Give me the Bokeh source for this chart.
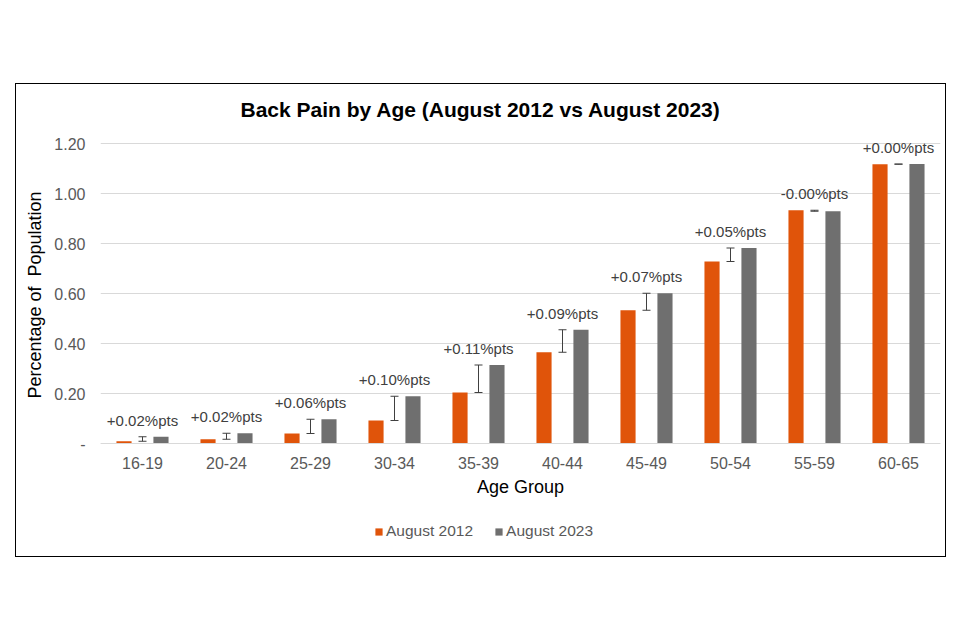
from bokeh.plotting import figure
from bokeh.models import (ColumnDataSource, FactorRange, Range1d, FixedTicker,
                          NumeralTickFormatter, Legend, LegendItem)
from bokeh.transform import dodge
from bokeh.embed import file_html
from bokeh.resources import INLINE
from bokeh.core.properties import value

# ---- data ----
age_groups = ["16-19", "20-24", "25-29", "30-34", "35-39",
              "40-44", "45-49", "50-54", "55-59", "60-65"]
aug_2012 = [0.009, 0.017, 0.040, 0.092, 0.204, 0.365, 0.533, 0.728, 0.933, 1.117]
aug_2023 = [0.027, 0.041, 0.097, 0.189, 0.314, 0.455, 0.601, 0.782, 0.929, 1.118]
change_labels = ["+0.02%pts", "+0.02%pts", "+0.06%pts", "+0.10%pts", "+0.11%pts",
                 "+0.09%pts", "+0.07%pts", "+0.05%pts", "-0.00%pts", "+0.00%pts"]
y_ticks = [0, 0.2, 0.4, 0.6, 0.8, 1.0, 1.2]
series_names = ["August 2012", "August 2023"]

FONT = "Liberation Sans"
ORANGE = "#E0540A"
GREY = "#6F6F6F"

src = ColumnDataSource(dict(
    age=age_groups,
    a2012=aug_2012,
    a2023=aug_2023,
    lo=[min(a, b) for a, b in zip(aug_2012, aug_2023)],
    hi=[max(a, b) for a, b in zip(aug_2012, aug_2023)],
    lab=change_labels,
))

p = figure(
    x_range=FactorRange(*age_groups, range_padding=0),
    # frame spans 39px above 1.20 and down to the legend row (250 px per unit)
    y_range=Range1d(-0.432, 1.28),
    width=929, height=472,
    output_backend="svg", toolbar_location=None,
    min_border_left=84, min_border_right=5, min_border_top=39, min_border_bottom=5,
    margin=(84, 0, 0, 16),
    styles={"outline": "1px solid #000000", "outline-offset": "0px"},
)
p.background_fill_color = "white"
p.border_fill_color = "white"
p.outline_line_color = None

# title
p.title.text = "Back Pain by Age (August 2012 vs August 2023)"
p.title.align = "left"
p.title.offset = 140
p.title.text_font = FONT
p.title.text_font_size = "21px"
p.title.text_font_style = "bold"
p.title.text_color = "#000000"
p.title.standoff = 5

# bars
r1 = p.vbar(x=dodge("age", -0.22, range=p.x_range), top="a2012", width=0.18,
            source=src, fill_color=ORANGE, line_color=None)
r2 = p.vbar(x=dodge("age", 0.22, range=p.x_range), top="a2023", width=0.18,
            source=src, fill_color=GREY, line_color=None)

# change bars (error-bar style)
p.segment(x0="age", y0="lo", x1="age", y1="hi", source=src,
          line_color="#404040", line_width=1)
p.scatter(x="age", y="lo", marker="dash", size=8, source=src,
          line_color="#404040", line_width=1)
p.scatter(x="age", y="hi", marker="dash", size=8, source=src,
          line_color="#404040", line_width=1)

# change labels
p.text(x="age", y="hi", text="lab", source=src, y_offset=-8,
       text_align="center", text_baseline="bottom",
       text_font=value(FONT), text_font_size="15px", text_color="#404040")

# axes
p.yaxis.ticker = FixedTicker(ticks=y_ticks)
p.yaxis.bounds = (0, 1.2)
p.yaxis.formatter = NumeralTickFormatter(format="0.00")
p.yaxis.major_label_overrides = {0: "-"}
p.yaxis.axis_line_color = None
p.yaxis.major_tick_line_color = None
p.yaxis.minor_tick_line_color = None
p.yaxis.major_label_text_font = FONT
p.yaxis.major_label_text_font_size = "16px"
p.yaxis.major_label_text_color = "#595959"
p.yaxis.major_label_standoff = 9
# leading no-break spaces lift the label so it is centred on the 0-1.20 span
p.yaxis.axis_label = "\u00a0" * 17 + "Percentage of\u00a0 Population"
p.yaxis.axis_label_text_font = FONT
p.yaxis.axis_label_text_font_size = "18px"
p.yaxis.axis_label_text_font_style = "normal"
p.yaxis.axis_label_text_color = "#000000"
p.yaxis.axis_label_standoff = 6

p.xaxis.fixed_location = 0
p.xaxis.axis_line_color = "#D9D9D9"
p.xaxis.major_tick_line_color = None
p.xaxis.minor_tick_line_color = None
p.xaxis.major_label_text_font = FONT
p.xaxis.major_label_text_font_size = "16px"
p.xaxis.major_label_text_color = "#595959"
p.xaxis.major_label_standoff = 7
p.xaxis.axis_label = "Age Group"
p.xaxis.axis_label_text_font = FONT
p.xaxis.axis_label_text_font_size = "18px"
p.xaxis.axis_label_text_font_style = "normal"
p.xaxis.axis_label_text_color = "#000000"
p.xaxis.axis_label_standoff = 5

p.xgrid.grid_line_color = None
p.ygrid.grid_line_color = "#D9D9D9"
p.ygrid.grid_line_width = 1

# legend
legend = Legend(
    items=[LegendItem(label=series_names[0], renderers=[r1]),
           LegendItem(label=series_names[1], renderers=[r2])],
    orientation="horizontal", location=(274, 11),
    padding=0, margin=0, spacing=21,
    glyph_width=9, glyph_height=9, label_standoff=3,
    label_text_font=FONT, label_text_font_size="15.5px", label_text_color="#595959",
    border_line_color=None, background_fill_alpha=0,
)
p.add_layout(legend, "center")

open("out.html", "w").write(file_html(p, INLINE))
